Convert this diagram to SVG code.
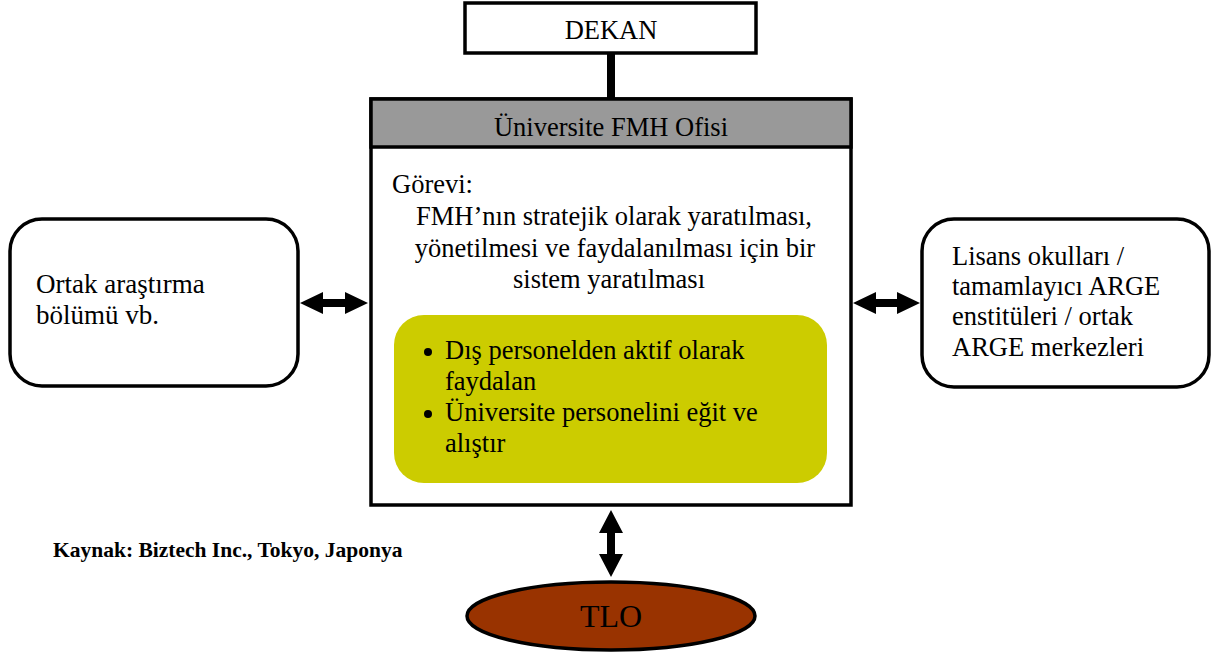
<svg xmlns="http://www.w3.org/2000/svg" width="1216" height="655" viewBox="0 0 1216 655">
  <style>
    .t { font-family: "Liberation Serif", "Times New Roman", serif; font-size: 26.5px; fill: #000; }
    .box { fill: #fff; stroke: #000; stroke-width: 3.5; }
    .arrow { fill: #000; }
  </style>
  <rect width="1216" height="655" fill="#fff"/>

  <g id="connectors">
    <!-- DEKAN to office -->
    <rect x="607" y="53" width="8" height="48" fill="#000"/>
    <!-- left double arrow -->
    <polygon class="arrow" points="300,303 323,292 323,299 345,299 345,292 368,303 345,314 345,307 323,307 323,314"/>
    <!-- right double arrow -->
    <polygon class="arrow" points="853,303 876,292 876,299 897,299 897,292 920,303 897,314 897,307 876,307 876,314"/>
    <!-- bottom double arrow -->
    <polygon class="arrow" points="611,510 623,533 615,533 615,554 623,554 611,577 599,554 607,554 607,533 599,533"/>
  </g>

  <g id="dekan">
    <rect class="box" x="465" y="3" width="291" height="50"/>
    <text class="t" x="611" y="39" text-anchor="middle">DEKAN</text>
  </g>

  <g id="office">
    <rect class="box" x="371" y="99" width="480" height="406"/>
    <rect x="371" y="99" width="480" height="48" fill="#999999" stroke="#000" stroke-width="3.5"/>
    <text class="t" x="611" y="136" text-anchor="middle">Üniversite FMH Ofisi</text>
    <text class="t" x="392" y="193">Görevi:</text>
    <text class="t" x="614" y="225" text-anchor="middle">FMH’nın stratejik olarak yaratılması,</text>
    <text class="t" x="615" y="257" text-anchor="middle">yönetilmesi ve faydalanılması için bir</text>
    <text class="t" x="609" y="288" text-anchor="middle">sistem yaratılması</text>
  </g>

  <g id="tasks">
    <rect x="394" y="315" width="433" height="168" rx="30" ry="30" fill="#CCCC00"/>
    <circle cx="428" cy="352" r="4" fill="#000"/>
    <text class="t" x="445" y="359">Dış personelden aktif olarak</text>
    <text class="t" x="445" y="390">faydalan</text>
    <circle cx="428" cy="414" r="4" fill="#000"/>
    <text class="t" x="445" y="421">Üniversite personelini eğit ve</text>
    <text class="t" x="445" y="452">alıştır</text>
  </g>

  <g id="research">
    <rect class="box" x="10" y="219" width="288" height="167" rx="32" ry="32"/>
    <text class="t" x="36" y="293" style="font-size:27px">Ortak araştırma</text>
    <text class="t" x="36" y="324" style="font-size:27px">bölümü vb.</text>
  </g>

  <g id="schools">
    <rect class="box" x="922" y="219" width="287" height="168" rx="32" ry="32"/>
    <text class="t" x="952" y="265">Lisans okulları /</text>
    <text class="t" x="952" y="295">tamamlayıcı ARGE</text>
    <text class="t" x="952" y="325">enstitüleri / ortak</text>
    <text class="t" x="952" y="356">ARGE merkezleri</text>
  </g>

  <g id="tlo">
    <ellipse cx="611" cy="616" rx="144" ry="34" fill="#993300" stroke="#000" stroke-width="3.5"/>
    <text class="t" x="611" y="627" text-anchor="middle" style="font-size:32px">TLO</text>
  </g>

  <g id="source">
    <text x="53" y="557" style="font-family:'Liberation Serif','Times New Roman',serif;font-size:21.5px;font-weight:bold">Kaynak: Biztech Inc., Tokyo, Japonya</text>
  </g>
</svg>
